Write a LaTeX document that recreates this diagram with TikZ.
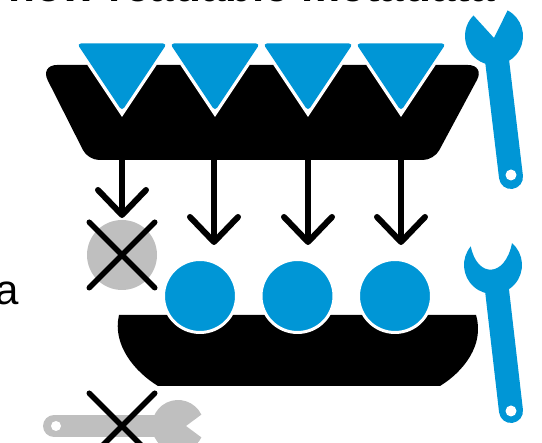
\documentclass[tikz,border=0pt]{standalone}
\usepackage{fontspec}
\setmainfont{Liberation Sans}
\usetikzlibrary{shapes.misc,positioning,arrows.meta}
\definecolor{hpblue}{HTML}{0096D6}
\definecolor{offgrey}{HTML}{BFBFBF}

\begin{document}
\begin{tikzpicture}[
  x=1pt, y=1pt,
  ball/.style={circle, draw=white, line width=3pt, fill=hpblue, minimum size=73pt, inner sep=0pt},
  deadball/.style={circle, fill=offgrey, minimum size=70pt, inner sep=0pt},
  crossmark/.style={cross out, draw=black, line width=5.5pt, line cap=round, minimum size=60pt, inner sep=0pt},
  arrow/.style={-{Straight Barb[round, length=25pt, width=48pt]}, line width=6pt},
  handle/.style={line width=24pt, line cap=round, hpblue},
  hole/.style={fill=white},
]
\useasboundingbox (0,0) rectangle (542,443);

% === Clipped text ===
\node[anchor=base west, inner sep=0pt, font=\fontsize{44}{44}\selectfont\bfseries] (title) at (8,441.5) {how readable metadata};
\node[anchor=base east, inner sep=0pt, font=\fontsize{42}{42}\selectfont] (cutoff) at (19,138) {a};

% === Upper block with triangles ===
\fill[rounded corners=17pt] (40,378) -- (485,378) [rounded corners=11pt] -- (434,283) -- (88,283) [rounded corners=17pt] -- cycle;
\foreach \x in {122,215,308,401} {
  \fill[white] (\x-35,378.5) -- (\x+35,378.5) -- (\x,326) -- cycle;
  \fill[hpblue, rounded corners=4pt] (\x-45,399.5) -- (\x+45,399.5) -- (\x,332) -- cycle;
}

% === Lower block with balls ===
\fill (119,128) .. controls (112,98) and (135,71) .. (158,57) -- (440,57) .. controls (463,71) and (485,98) .. (476,128) -- cycle;
\node[ball] (ball1) at (200,147) {};
\node[ball, right=21.5pt of ball1] (ball2) {};
\node[ball, right=21.5pt of ball2] (ball3) {};
\node[deadball] (drop) at (122,188) {};
\node[crossmark] (dropx) at (drop) {};

% === Arrows ===
\coordinate (from1) at (122,283);
\coordinate (from2) at (214,283);
\coordinate (from3) at (308,283);
\coordinate (from4) at (401,283);
\coordinate (to1) at (122,225);
\coordinate (to2) at (214,198);
\coordinate (to3) at (308,198);
\coordinate (to4) at (401,198);
\draw[arrow] (from1) -- (to1);
\draw[arrow] (from2) -- (to2);
\draw[arrow] (from3) -- (to3);
\draw[arrow] (from4) -- (to4);

% === Wrenches ===
\draw[handle] (497,383) -- (511,266);
\fill[hpblue] (494,407) ++(62:29) arc[start angle=62, end angle=-225, radius=29] -- (494,405) -- cycle;
\fill[hole] (511,268) circle (5.5);

\draw[handle] (497,153) -- (511,32);
\fill[hpblue] (493,178) ++(49:29) arc[start angle=49, end angle=-220, radius=29] .. controls (477,165) and (505,165) .. cycle;
\fill[hole] (511,32) circle (5.5);

% === Unused wrench ===
\draw[line width=22pt, line cap=round, offgrey] (54,17) -- (165,17);
\fill[offgrey] (178,17) ++(26:26) arc[start angle=26, end angle=334, radius=26] -- (186,17) -- cycle;
\fill[hole] (56,17) circle (5);
\node[crossmark] (toolx) at (122,17) {};

\end{tikzpicture}
\end{document}
